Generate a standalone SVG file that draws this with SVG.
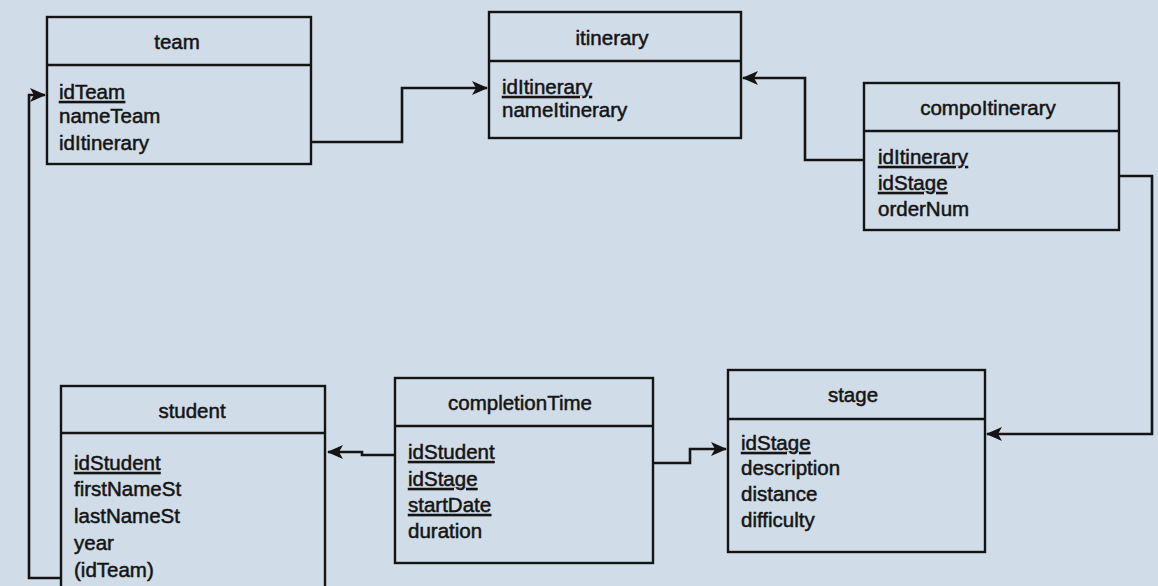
<svg xmlns="http://www.w3.org/2000/svg" width="1158" height="586" viewBox="0 0 1158 586">
<defs>
<marker id="arr" viewBox="0 0 16 14" refX="15" refY="7" markerWidth="16" markerHeight="14" markerUnits="userSpaceOnUse" orient="auto">
<path d="M0,0 L16,7 L0,14 L4,7 Z" fill="#141414"/>
</marker>
<style>
.box{fill:none;stroke:#141414;stroke-width:2.4}
.div{stroke:#141414;stroke-width:2.4}
.t{font-family:"Liberation Sans",Arial,sans-serif;font-size:20.5px;fill:#141414;stroke:#141414;stroke-width:0.5}
.h{text-anchor:middle}
.u{text-decoration:underline}
.c{fill:none;stroke:#141414;stroke-width:2.6}
</style>
</defs>
<rect width="1158" height="586" fill="#d0dce7"/>
<g id="team">
<rect class="box" x="47" y="17" width="264" height="147"/>
<line class="div" x1="47" y1="65" x2="311" y2="65"/>
<text class="t h" x="177" y="49">team</text>
<text class="t u" x="59" y="99">idTeam</text>
<text class="t" x="59" y="123">nameTeam</text>
<text class="t" x="59" y="150">idItinerary</text>
</g>
<g id="itinerary">
<rect class="box" x="489" y="12" width="252" height="126"/>
<line class="div" x1="489" y1="61" x2="741" y2="61"/>
<text class="t h" x="612" y="45">itinerary</text>
<text class="t u" x="502" y="94">idItinerary</text>
<text class="t" x="502" y="117">nameItinerary</text>
</g>
<g id="compoItinerary">
<rect class="box" x="864" y="83" width="255" height="147"/>
<line class="div" x1="864" y1="131" x2="1119" y2="131"/>
<text class="t h" x="988" y="115">compoItinerary</text>
<text class="t u" x="878" y="164">idItinerary</text>
<text class="t u" x="878" y="190">idStage</text>
<text class="t" x="878" y="216">orderNum</text>
</g>
<g id="student">
<rect class="box" x="61" y="386" width="264" height="210"/>
<line class="div" x1="61" y1="433" x2="325" y2="433"/>
<text class="t h" x="192" y="418">student</text>
<text class="t u" x="74" y="470">idStudent</text>
<text class="t" x="74" y="496">firstNameSt</text>
<text class="t" x="74" y="523">lastNameSt</text>
<text class="t" x="74" y="550">year</text>
<text class="t" x="74" y="577">(idTeam)</text>
</g>
<g id="completionTime">
<rect class="box" x="395" y="378" width="258" height="185"/>
<line class="div" x1="395" y1="426" x2="653" y2="426"/>
<text class="t h" x="520" y="410">completionTime</text>
<text class="t u" x="408" y="459">idStudent</text>
<text class="t u" x="408" y="486">idStage</text>
<text class="t u" x="408" y="512">startDate</text>
<text class="t" x="408" y="538">duration</text>
</g>
<g id="stage">
<rect class="box" x="728" y="370" width="257" height="182"/>
<line class="div" x1="728" y1="419" x2="985" y2="419"/>
<text class="t h" x="853" y="402">stage</text>
<text class="t u" x="741" y="450">idStage</text>
<text class="t" x="741" y="475">description</text>
<text class="t" x="741" y="501">distance</text>
<text class="t" x="741" y="527">difficulty</text>
</g>
<g id="connectors">
<path class="c" d="M311,142 H402 V88 H487" marker-end="url(#arr)"/>
<path class="c" d="M864,160 H805 V78 H743" marker-end="url(#arr)"/>
<path class="c" d="M1119,176 H1152 V434 H987" marker-end="url(#arr)"/>
<path class="c" d="M61,578 H29 V95 H45" marker-end="url(#arr)"/>
<path class="c" d="M395,455 H362 V452 H328" marker-end="url(#arr)"/>
<path class="c" d="M653,463 H690 V449 H726" marker-end="url(#arr)"/>
</g>
</svg>
